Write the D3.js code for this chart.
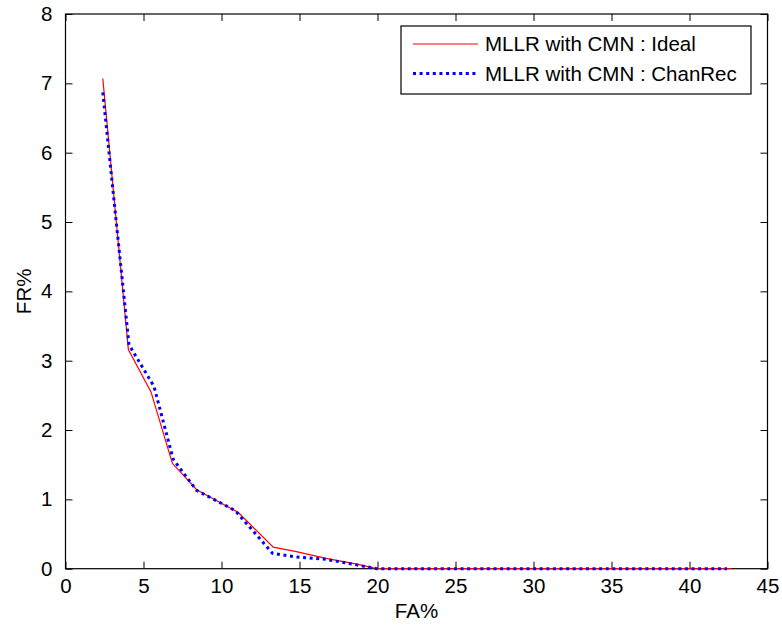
<!DOCTYPE html>
<html>
<head>
<meta charset="utf-8">
<script src="https://cdn.jsdelivr.net/npm/d3@7"></script>
<style>
  body { margin: 0; background: #fff; }
  text { font-family: "Liberation Sans", Arial, sans-serif; fill: #000; }
</style>
</head>
<body>
<div id="chart"></div>
<script>
var svgWidth = 782;
var svgHeight = 626;

var margin = { top: 14, right: 14.5, bottom: 57.3, left: 65.5 };
var width = svgWidth - margin.left - margin.right;
var height = svgHeight - margin.top - margin.bottom;

// series
var idealFA = [2.39, 4.03, 5.48, 6.85, 8.41, 11.08, 13.32, 14.8, 16.7, 18.67, 19.95, 25, 30, 35, 40, 42.7];
var idealFR = [7.07, 3.16, 2.55, 1.52, 1.14, 0.81, 0.31, 0.245, 0.15, 0.067, 0, 0, 0, 0, 0, 0];

var chanFA = [2.39, 4.07, 5.67, 6.9, 8.4, 10.87, 13.28, 14.8, 16.7, 18.67, 19.95, 25, 30, 35, 40, 42.4];
var chanFR = [6.87, 3.23, 2.63, 1.58, 1.13, 0.84, 0.22, 0.17, 0.135, 0.055, 0, 0, 0, 0, 0, 0];

var xTicks = [0, 5, 10, 15, 20, 25, 30, 35, 40, 45];
var yTicks = [0, 1, 2, 3, 4, 5, 6, 7, 8];
var seriesNames = ["MLLR with CMN : Ideal", "MLLR with CMN : ChanRec"];

var fontSize = "20.5px";

var svg = d3.select("#chart")
  .append("svg")
  .attr("width", svgWidth)
  .attr("height", svgHeight);

var chartGroup = svg.append("g")
  .attr("transform", `translate(${margin.left}, ${margin.top})`);

var x = d3.scaleLinear().domain([0, 45]).range([0, width]);
var y = d3.scaleLinear().domain([0, 8]).range([height, 0]);

// matlab style box with inward ticks on all sides
function styleAxis(g) {
  g.select(".domain").remove();
  g.selectAll(".tick line").attr("stroke", "#000");
  g.selectAll(".tick text").style("font-size", fontSize).attr("fill", "#000");
}

chartGroup.append("g")
  .attr("transform", `translate(0, ${height})`)
  .call(d3.axisBottom(x).tickValues(xTicks).tickSizeInner(-7).tickSizeOuter(0).tickPadding(10))
  .call(styleAxis);

chartGroup.append("g")
  .call(d3.axisTop(x).tickValues(xTicks).tickSizeInner(-7).tickSizeOuter(0).tickFormat(""))
  .call(styleAxis);

chartGroup.append("g")
  .call(d3.axisLeft(y).tickValues(yTicks).tickSizeInner(-7).tickSizeOuter(0).tickPadding(13))
  .call(styleAxis);

chartGroup.append("g")
  .attr("transform", `translate(${width}, 0)`)
  .call(d3.axisRight(y).tickValues(yTicks).tickSizeInner(-7).tickSizeOuter(0).tickFormat(""))
  .call(styleAxis);

chartGroup.append("rect")
  .attr("width", width)
  .attr("height", height)
  .attr("fill", "none")
  .attr("stroke", "#000")
  .attr("stroke-width", 1.2);

var line = d3.line()
  .x(d => x(d[0]))
  .y(d => y(d[1]));

chartGroup.append("path")
  .datum(idealFA.map((v, i) => [v, idealFR[i]]))
  .attr("d", line)
  .attr("fill", "none")
  .attr("stroke", "#ff0000")
  .attr("stroke-width", 1.2);

chartGroup.append("path")
  .datum(chanFA.map((v, i) => [v, chanFR[i]]))
  .attr("d", line)
  .attr("fill", "none")
  .attr("stroke", "#0000ff")
  .attr("stroke-width", 3)
  .attr("stroke-dasharray", "3,3.6");

// legend
var legend = svg.append("g").attr("transform", "translate(401, 26)");
legend.append("rect")
  .attr("width", 350)
  .attr("height", 68)
  .attr("fill", "#fff")
  .attr("stroke", "#000")
  .attr("stroke-width", 1.2);

var legendStyles = [
  { color: "#ff0000", w: 1.2, dash: null },
  { color: "#0000ff", w: 3, dash: "3,3.6" }
];

seriesNames.forEach(function (name, i) {
  var ly = 18 + i * 29.5;
  legend.append("line")
    .attr("x1", 12).attr("x2", 77)
    .attr("y1", ly).attr("y2", ly)
    .attr("stroke", legendStyles[i].color)
    .attr("stroke-width", legendStyles[i].w)
    .attr("stroke-dasharray", legendStyles[i].dash);
  legend.append("text")
    .attr("x", 84)
    .attr("y", ly)
    .attr("dy", "0.35em")
    .style("font-size", fontSize)
    .text(name);
});

chartGroup.append("text")
  .attr("x", width / 2)
  .attr("y", height + 49)
  .attr("text-anchor", "middle")
  .style("font-size", fontSize)
  .text("FA%");

chartGroup.append("text")
  .attr("transform", "rotate(-90)")
  .attr("x", -height / 2)
  .attr("y", -35)
  .attr("text-anchor", "middle")
  .style("font-size", fontSize)
  .text("FR%");
</script>
</body>
</html>
